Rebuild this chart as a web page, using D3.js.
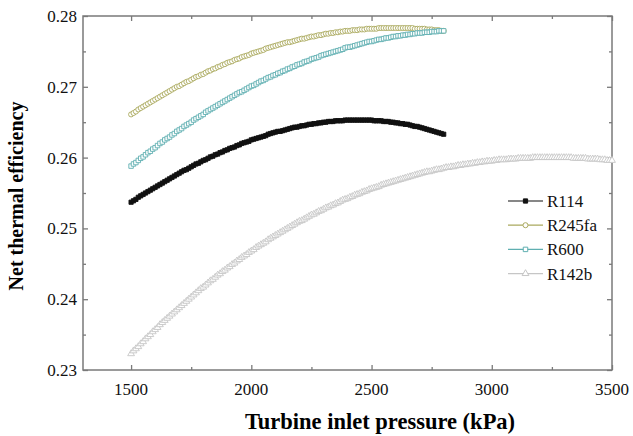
<!DOCTYPE html>
<html>
<head>
<meta charset="utf-8">
<script src="https://cdn.jsdelivr.net/npm/d3@7"></script>
<style>
  body { margin: 0; background: #fff; }
</style>
</head>
<body>
<svg id="chart" width="633" height="436" font-family="'Liberation Serif', 'Times New Roman', serif"></svg>
<script>
// pressure grids (kPa), 10 kPa steps
const p114 = d3.range(1500, 2801, 10);
const p245fa = d3.range(1500, 2801, 10);
const p600 = d3.range(1500, 2801, 10);
const p142b = d3.range(1500, 3501, 10);

// net thermal efficiency
const eff114 = [
  0.2537, 0.2539, 0.2541, 0.2544, 0.2546, 0.2548, 0.2550, 0.2552, 0.2554, 0.2556,
  0.2558, 0.2560, 0.2562, 0.2564, 0.2566, 0.2568, 0.2570, 0.2572, 0.2574, 0.2576,
  0.2578, 0.2580, 0.2582, 0.2583, 0.2585, 0.2587, 0.2589, 0.2591, 0.2592, 0.2594,
  0.2596, 0.2597, 0.2599, 0.2601, 0.2602, 0.2604, 0.2605, 0.2607, 0.2608, 0.2610,
  0.2611, 0.2613, 0.2614, 0.2615, 0.2617, 0.2618, 0.2620, 0.2621, 0.2622, 0.2623,
  0.2625, 0.2626, 0.2627, 0.2628, 0.2629, 0.2630, 0.2631, 0.2633, 0.2634, 0.2635,
  0.2636, 0.2637, 0.2637, 0.2638, 0.2639, 0.2640, 0.2641, 0.2642, 0.2643, 0.2643,
  0.2644, 0.2645, 0.2645, 0.2646, 0.2647, 0.2647, 0.2648, 0.2648, 0.2649, 0.2649,
  0.2650, 0.2650, 0.2651, 0.2651, 0.2651, 0.2652, 0.2652, 0.2652, 0.2652, 0.2653,
  0.2653, 0.2653, 0.2653, 0.2653, 0.2653, 0.2653, 0.2653, 0.2653, 0.2653, 0.2653,
  0.2653, 0.2652, 0.2652, 0.2652, 0.2652, 0.2651, 0.2651, 0.2651, 0.2650, 0.2650,
  0.2649, 0.2649, 0.2648, 0.2648, 0.2647, 0.2647, 0.2646, 0.2645, 0.2644, 0.2644,
  0.2643, 0.2642, 0.2641, 0.2640, 0.2639, 0.2638, 0.2637, 0.2636, 0.2635, 0.2634,
  0.2633
];
const eff245fa = [
  0.2661, 0.2663, 0.2665, 0.2668, 0.2670, 0.2672, 0.2674, 0.2676, 0.2678, 0.2680,
  0.2682, 0.2684, 0.2686, 0.2688, 0.2690, 0.2692, 0.2694, 0.2696, 0.2698, 0.2700,
  0.2701, 0.2703, 0.2705, 0.2707, 0.2708, 0.2710, 0.2712, 0.2714, 0.2715, 0.2717,
  0.2718, 0.2720, 0.2722, 0.2723, 0.2725, 0.2726, 0.2728, 0.2729, 0.2731, 0.2732,
  0.2734, 0.2735, 0.2736, 0.2738, 0.2739, 0.2740, 0.2742, 0.2743, 0.2744, 0.2745,
  0.2747, 0.2748, 0.2749, 0.2750, 0.2751, 0.2752, 0.2754, 0.2755, 0.2756, 0.2757,
  0.2758, 0.2759, 0.2760, 0.2761, 0.2762, 0.2763, 0.2763, 0.2764, 0.2765, 0.2766,
  0.2767, 0.2768, 0.2768, 0.2769, 0.2770, 0.2771, 0.2771, 0.2772, 0.2773, 0.2773,
  0.2774, 0.2775, 0.2775, 0.2776, 0.2776, 0.2777, 0.2777, 0.2778, 0.2778, 0.2779,
  0.2779, 0.2779, 0.2780, 0.2780, 0.2780, 0.2781, 0.2781, 0.2781, 0.2782, 0.2782,
  0.2782, 0.2782, 0.2782, 0.2783, 0.2783, 0.2783, 0.2783, 0.2783, 0.2783, 0.2783,
  0.2783, 0.2783, 0.2783, 0.2783, 0.2783, 0.2783, 0.2783, 0.2783, 0.2782, 0.2782,
  0.2782, 0.2782, 0.2782, 0.2781, 0.2781, 0.2781, 0.2780, 0.2780, 0.2780, 0.2779,
  0.2779
];
const eff600 = [
  0.2588, 0.2591, 0.2593, 0.2596, 0.2599, 0.2601, 0.2604, 0.2607, 0.2609, 0.2612,
  0.2614, 0.2617, 0.2620, 0.2622, 0.2625, 0.2627, 0.2629, 0.2632, 0.2634, 0.2637,
  0.2639, 0.2641, 0.2644, 0.2646, 0.2648, 0.2650, 0.2653, 0.2655, 0.2657, 0.2659,
  0.2661, 0.2664, 0.2666, 0.2668, 0.2670, 0.2672, 0.2674, 0.2676, 0.2678, 0.2680,
  0.2682, 0.2684, 0.2686, 0.2688, 0.2690, 0.2692, 0.2693, 0.2695, 0.2697, 0.2699,
  0.2701, 0.2702, 0.2704, 0.2706, 0.2708, 0.2709, 0.2711, 0.2713, 0.2714, 0.2716,
  0.2717, 0.2719, 0.2720, 0.2722, 0.2723, 0.2725, 0.2726, 0.2728, 0.2729, 0.2731,
  0.2732, 0.2733, 0.2735, 0.2736, 0.2737, 0.2739, 0.2740, 0.2741, 0.2742, 0.2744,
  0.2745, 0.2746, 0.2747, 0.2748, 0.2749, 0.2750, 0.2751, 0.2752, 0.2753, 0.2755,
  0.2756, 0.2756, 0.2757, 0.2758, 0.2759, 0.2760, 0.2761, 0.2762, 0.2763, 0.2764,
  0.2764, 0.2765, 0.2766, 0.2767, 0.2767, 0.2768, 0.2769, 0.2769, 0.2770, 0.2771,
  0.2771, 0.2772, 0.2772, 0.2773, 0.2773, 0.2774, 0.2774, 0.2775, 0.2775, 0.2776,
  0.2776, 0.2776, 0.2777, 0.2777, 0.2777, 0.2778, 0.2778, 0.2778, 0.2779, 0.2779,
  0.2779
];
const eff142b = [
  0.2323, 0.2327, 0.2330, 0.2333, 0.2337, 0.2340, 0.2344, 0.2347, 0.2350, 0.2354,
  0.2357, 0.2360, 0.2364, 0.2367, 0.2370, 0.2373, 0.2376, 0.2379, 0.2382, 0.2385,
  0.2388, 0.2391, 0.2394, 0.2397, 0.2400, 0.2403, 0.2406, 0.2409, 0.2412, 0.2415,
  0.2417, 0.2420, 0.2423, 0.2426, 0.2428, 0.2431, 0.2434, 0.2436, 0.2439, 0.2441,
  0.2444, 0.2446, 0.2449, 0.2451, 0.2454, 0.2456, 0.2459, 0.2461, 0.2463, 0.2466,
  0.2468, 0.2470, 0.2473, 0.2475, 0.2477, 0.2479, 0.2481, 0.2484, 0.2486, 0.2488,
  0.2490, 0.2492, 0.2494, 0.2496, 0.2498, 0.2500, 0.2502, 0.2504, 0.2506, 0.2508,
  0.2510, 0.2511, 0.2513, 0.2515, 0.2517, 0.2519, 0.2520, 0.2522, 0.2524, 0.2525,
  0.2527, 0.2529, 0.2530, 0.2532, 0.2533, 0.2535, 0.2536, 0.2538, 0.2540, 0.2541,
  0.2542, 0.2544, 0.2545, 0.2547, 0.2548, 0.2549, 0.2551, 0.2552, 0.2553, 0.2555,
  0.2556, 0.2557, 0.2558, 0.2559, 0.2561, 0.2562, 0.2563, 0.2564, 0.2565, 0.2566,
  0.2567, 0.2568, 0.2569, 0.2570, 0.2571, 0.2572, 0.2573, 0.2574, 0.2575, 0.2576,
  0.2577, 0.2578, 0.2579, 0.2580, 0.2580, 0.2581, 0.2582, 0.2583, 0.2583, 0.2584,
  0.2585, 0.2586, 0.2586, 0.2587, 0.2587, 0.2588, 0.2589, 0.2589, 0.2590, 0.2590,
  0.2591, 0.2591, 0.2592, 0.2592, 0.2593, 0.2593, 0.2594, 0.2594, 0.2595, 0.2595,
  0.2595, 0.2596, 0.2596, 0.2597, 0.2597, 0.2597, 0.2597, 0.2598, 0.2598, 0.2598,
  0.2598, 0.2599, 0.2599, 0.2599, 0.2599, 0.2599, 0.2599, 0.2600, 0.2600, 0.2600,
  0.2600, 0.2600, 0.2600, 0.2600, 0.2600, 0.2600, 0.2600, 0.2600, 0.2600, 0.2600,
  0.2600, 0.2600, 0.2600, 0.2600, 0.2599, 0.2599, 0.2599, 0.2599, 0.2599, 0.2599,
  0.2598, 0.2598, 0.2598, 0.2598, 0.2598, 0.2597, 0.2597, 0.2597, 0.2596, 0.2596,
  0.2596
];

const xTicks = [1500, 2000, 2500, 3000, 3500];
const yTicks = [0.23, 0.24, 0.25, 0.26, 0.27, 0.28];

const seriesList = [
  { name: 'R114', p: p114, e: eff114, color: '#111111', symbol: d3.symbolSquare, size: 18, fill: '#111111' },
  { name: 'R245fa', p: p245fa, e: eff245fa, color: '#aaa95e', symbol: d3.symbolCircle, size: 20, fill: '#fff' },
  { name: 'R600', p: p600, e: eff600, color: '#5fafb1', symbol: d3.symbolSquare, size: 20, fill: '#fff' },
  { name: 'R142b', p: p142b, e: eff142b, color: '#c6c6c6', symbol: d3.symbolTriangle, size: 20, fill: '#fff' },
];

const svg = d3.select('#chart');
const margin = { left: 83, right: 21, top: 16, bottom: 66 };
const width = 633, height = 436;
const frameColor = '#7a7a7a';

const x = d3.scaleLinear().domain([1300, 3500]).range([margin.left, width - margin.right]);
const y = d3.scaleLinear().domain([0.23, 0.28]).range([height - margin.bottom, margin.top]);

const x0 = margin.left, x1 = width - margin.right;
const y0 = height - margin.bottom, y1 = margin.top;

// ticks on all four sides, pointing in
const xMinor = [1750, 2250, 2750, 3250];
const yMinor = [0.235, 0.245, 0.255, 0.265, 0.275];

const tickAxis = (axisFn, scale, values, len, tx, ty) => {
  const g = svg.append('g').attr('transform', `translate(${tx},${ty})`)
    .call(axisFn(scale).tickValues(values).tickSizeInner(-len).tickSizeOuter(0).tickFormat(''));
  g.select('.domain').remove();
  g.selectAll('line').attr('stroke', frameColor).attr('stroke-width', 1.3);
  return g;
};
tickAxis(d3.axisBottom, x, xTicks, 5, 0, y0);
tickAxis(d3.axisBottom, x, xMinor, 3, 0, y0);
tickAxis(d3.axisTop, x, xTicks, 5, 0, y1);
tickAxis(d3.axisTop, x, xMinor, 3, 0, y1);
tickAxis(d3.axisLeft, y, yTicks, 5, x0, 0);
tickAxis(d3.axisLeft, y, yMinor, 3, x0, 0);
tickAxis(d3.axisRight, y, yTicks, 5, x1, 0);
tickAxis(d3.axisRight, y, yMinor, 3, x1, 0);

svg.append('rect')
  .attr('x', x0).attr('y', y1)
  .attr('width', x1 - x0).attr('height', y0 - y1)
  .attr('fill', 'none').attr('stroke', frameColor).attr('stroke-width', 1.5);

// tick labels
svg.append('g').selectAll('text').data(xTicks).join('text')
  .attr('x', d => x(d)).attr('y', y0 + 25)
  .attr('text-anchor', 'middle').attr('font-size', 17).attr('fill', '#111')
  .text(d => d);
svg.append('g').selectAll('text').data(yTicks).join('text')
  .attr('x', x0 - 6).attr('y', d => y(d)).attr('dy', '0.35em')
  .attr('text-anchor', 'end').attr('font-size', 17).attr('fill', '#111')
  .text(d => d3.format('.2f')(d));

// axis titles
svg.append('text')
  .attr('x', 380).attr('y', 429)
  .attr('text-anchor', 'middle').attr('font-size', 22.5).attr('font-weight', 'bold')
  .text('Turbine inlet pressure (kPa)');
svg.append('text')
  .attr('transform', 'translate(23,196) rotate(-90)')
  .attr('text-anchor', 'middle').attr('font-size', 20).attr('font-weight', 'bold')
  .text('Net thermal efficiency');

// series
const lineGen = d3.line().x(d => x(d[0])).y(d => y(d[1]));
seriesList.forEach(s => {
  const pts = s.p.map((p, i) => [p, s.e[i]]);
  const g = svg.append('g');
  g.append('path')
    .attr('d', lineGen(pts))
    .attr('fill', 'none').attr('stroke', s.color).attr('stroke-width', 1);
  g.selectAll('path.mk').data(pts).join('path')
    .attr('class', 'mk')
    .attr('transform', d => `translate(${x(d[0])},${y(d[1])})`)
    .attr('d', d3.symbol(s.symbol, s.size))
    .attr('fill', s.fill).attr('stroke', s.color).attr('stroke-width', 0.9);
});

// legend
const legend = svg.append('g');
seriesList.forEach((s, i) => {
  const ly = 201 + i * 24.2;
  legend.append('line')
    .attr('x1', 508).attr('x2', 543).attr('y1', ly).attr('y2', ly)
    .attr('stroke', s.color).attr('stroke-width', 1.2);
  legend.append('path')
    .attr('transform', `translate(525.5,${ly})`)
    .attr('d', d3.symbol(s.symbol, s.size))
    .attr('fill', s.fill).attr('stroke', s.color).attr('stroke-width', 1);
  legend.append('text')
    .attr('x', 547).attr('y', ly).attr('dy', '0.35em')
    .attr('font-size', 17).attr('fill', '#111')
    .text(s.name);
});
</script>
</body>
</html>
